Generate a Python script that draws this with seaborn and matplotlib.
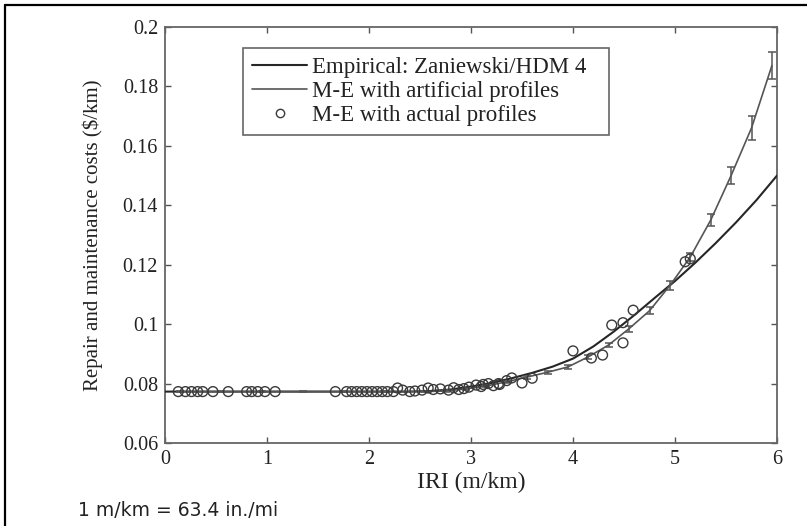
import matplotlib
matplotlib.use("Agg")
import matplotlib.pyplot as plt
from matplotlib.lines import Line2D
import seaborn as sns
import pandas as pd

# ---------------- data ----------------
emp_x = [0.0, 0.5, 1.0, 1.5, 2.0, 2.4, 2.6, 2.8, 3.0, 3.2, 3.4, 3.6, 3.8, 4.0,
         4.2, 4.4, 4.6, 4.8, 5.0, 5.2, 5.4, 5.6, 5.8, 6.0]
emp_y = [0.0773, 0.0773, 0.0773, 0.0773, 0.0773, 0.0773, 0.0775, 0.0780, 0.0790,
         0.0802, 0.0818, 0.0836, 0.0857, 0.0884, 0.0925, 0.0975, 0.1030, 0.1088,
         0.1145, 0.1207, 0.1273, 0.1343, 0.1418, 0.1500]

art_x = [0.15, 0.55, 0.95, 1.35, 1.75, 2.15, 2.55, 2.75, 2.95, 3.15, 3.35, 3.55,
         3.75, 3.95, 4.15, 4.35, 4.55, 4.75, 4.95, 5.15, 5.35, 5.55, 5.75, 5.95]
art_y = [0.0773, 0.0773, 0.0773, 0.0773, 0.0773, 0.0773, 0.0773, 0.0775, 0.0782,
         0.0792, 0.0806, 0.0822, 0.0838, 0.0856, 0.0890, 0.0930, 0.0985, 0.1045,
         0.1130, 0.1226, 0.1350, 0.1500, 0.1660, 0.1870]
art_err = [0.0002, 0.0002, 0.0002, 0.0002, 0.0002, 0.0002, 0.0002, 0.0003, 0.0003,
           0.0004, 0.0004, 0.0005, 0.0005, 0.0006, 0.0007, 0.0008, 0.0010, 0.0012,
           0.0015, 0.0015, 0.0020, 0.0028, 0.0040, 0.0045]

act_x = [0.13, 0.20, 0.26, 0.32, 0.37, 0.47, 0.62, 0.80, 0.85, 0.91, 0.98, 1.08,
         1.67, 1.78, 1.83, 1.88, 1.93, 1.98, 2.03, 2.08, 2.13, 2.18, 2.24,
         2.28, 2.33, 2.40, 2.45, 2.52, 2.58, 2.63, 2.70, 2.78, 2.83, 2.88, 2.93,
         2.98, 3.05, 3.10, 3.12, 3.17, 3.22, 3.27, 3.28, 3.35, 3.40, 3.50, 3.60,
         4.00, 4.18, 4.29, 4.38, 4.49, 4.49, 4.59,
         5.10, 5.15]
act_y = [0.0773, 0.0773, 0.0773, 0.0773, 0.0773, 0.0773, 0.0773, 0.0773, 0.0773,
         0.0773, 0.0773, 0.0773,
         0.0773, 0.0773, 0.0773, 0.0773, 0.0773, 0.0773, 0.0773, 0.0773, 0.0773,
         0.0773, 0.0773,
         0.0785, 0.0778, 0.0773, 0.0775, 0.0778, 0.0785, 0.0780, 0.0782, 0.0778,
         0.0786, 0.0780, 0.0783, 0.0788, 0.0795, 0.0790, 0.0797, 0.0800, 0.0793,
         0.0800, 0.0797, 0.0810, 0.0819, 0.0802, 0.0818,
         0.0910, 0.0886, 0.0896, 0.0997, 0.1005, 0.0937, 0.1047,
         0.1210, 0.1220]

series_labels = ["Empirical: Zaniewski/HDM 4", "M-E with artificial profiles",
                 "M-E with actual profiles"]
x_ticks = [0, 1, 2, 3, 4, 5, 6]
y_ticks = [0.06, 0.08, 0.10, 0.12, 0.14, 0.16, 0.18, 0.20]
y_ticklabels = ["0.06", "0.08", "0.1", "0.12", "0.14", "0.16", "0.18", "0.2"]
x_label = "IRI (m/km)"
y_label = "Repair and maintenance costs ($/km)"
note = "1 m/km = 63.4 in./mi"

# ---------------- style ----------------
sns.set_style("ticks")
plt.rcParams["font.family"] = ["Liberation Serif", "DejaVu Serif"]

W, H = 807, 526
fig = plt.figure(figsize=(W / 100, H / 100), dpi=100)
ax_l, ax_r, ax_t, ax_b = 165, 777, 27, 443
ax = fig.add_axes([ax_l / W, 1 - ax_b / H, (ax_r - ax_l) / W, (ax_b - ax_t) / H])

emp_df = pd.DataFrame({"x": emp_x, "y": emp_y})
art_df = pd.DataFrame({"x": art_x, "y": art_y})
act_df = pd.DataFrame({"x": act_x, "y": act_y})

c_emp = "#262626"
c_art = "#555555"
c_act = "#3a3a3a"

sns.lineplot(data=emp_df, x="x", y="y", ax=ax, color=c_emp, lw=1.5, zorder=3)
sns.lineplot(data=art_df, x="x", y="y", ax=ax, color=c_art, lw=1.2, zorder=3)
ax.errorbar(art_x, art_y, yerr=art_err, fmt="none", ecolor=c_art, elinewidth=1.1,
            capsize=3.2, capthick=1.1, zorder=3)
sns.scatterplot(data=act_df, x="x", y="y", ax=ax, marker="o", s=50,
                facecolor="none", edgecolor=c_act, linewidth=1.0, zorder=4)

ax.set_xlim(0, 6)
ax.set_ylim(0.06, 0.2)
ax.set_xticks(x_ticks)
ax.set_xticklabels([str(v) for v in x_ticks])
ax.set_yticks(y_ticks)
ax.set_yticklabels(y_ticklabels)
ax.tick_params(direction="in", length=4, width=1.0, top=True, right=True,
               labelsize=14.5, colors="#555555", labelcolor="#222222", pad=5)
for s in ax.spines.values():
    s.set_color("#666666")
    s.set_linewidth(1.3)
ax.set_xlabel(x_label, fontsize=17, color="#222222", labelpad=2)
ax.set_ylabel(y_label, fontsize=15, color="#222222", labelpad=14)

handles = [Line2D([], [], color=c_emp, lw=1.5),
           Line2D([], [], color=c_art, lw=1.2),
           Line2D([], [], color=c_act, lw=0, marker="o", markersize=6,
                  markerfacecolor="none", markeredgewidth=1.0)]
span_y = ax_b - ax_t
span_x = ax_r - ax_l
leg = ax.legend(handles, series_labels, loc="upper left",
                bbox_to_anchor=((243 - ax_l) / span_x, (ax_b - 133) / span_y,
                                (609 - 243) / span_x, (133 - 48) / span_y),
                mode="expand", borderaxespad=0, fontsize=16.5, frameon=True,
                fancybox=False, edgecolor="#666666", framealpha=1,
                handlelength=2.4, handletextpad=0.2, labelspacing=0.12,
                borderpad=0.4)
leg.get_frame().set_linewidth(1.2)
for t in leg.get_texts():
    t.set_color("#222222")

fig.text(78 / W, 1 - 511 / H, note, fontsize=13.5, family="DejaVu Sans",
         va="center", ha="left", color="#222222")

# outer frame lines (left and top)
fig.add_artist(Line2D([5 / W, 5 / W], [0, 1 - 5 / H], transform=fig.transFigure,
                      color="black", lw=1.6))
fig.add_artist(Line2D([5 / W, 1], [1 - 5 / H, 1 - 5 / H], transform=fig.transFigure,
                      color="black", lw=1.6))

fig.savefig("out.png", dpi=100)
